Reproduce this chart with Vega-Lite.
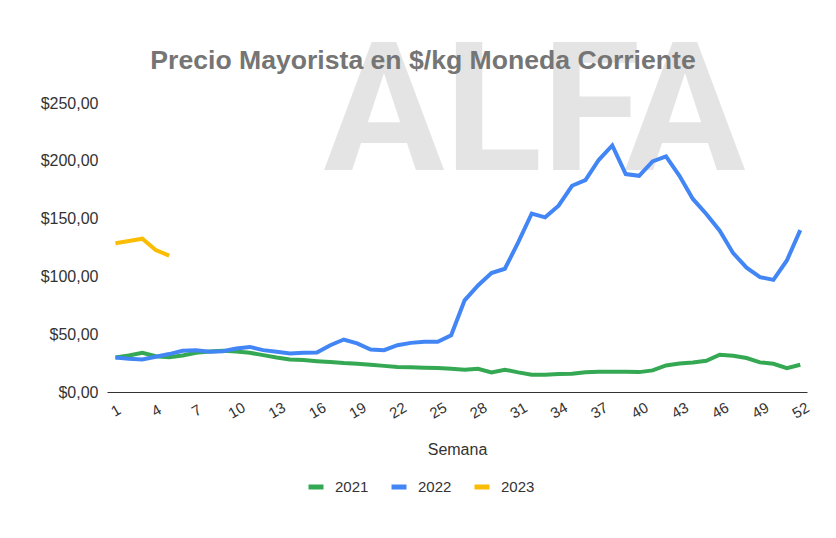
{
  "$schema": "https://vega.github.io/schema/vega-lite/v6.json",
  "width": 700,
  "height": 289,
  "autosize": {"type": "none"},
  "padding": {"left": 107, "top": 103, "right": 29, "bottom": 146},
  "background": "white",
  "title": {"text": "Precio Mayorista en $/kg Moneda Corriente", "font": "Liberation Sans", "fontSize": 26.6, "fontWeight": "bold", "color": "#757575", "anchor": "middle", "dx": -34, "offset": -49},
  "config": {"view": {"stroke": null}, "font": "Liberation Sans"},
  "layer": [
    {
      "data": {"values": [{}]},
      "mark": {"type": "text", "text": "ALFA", "font": "Roboto", "fontSize": 180, "fontWeight": "bold", "fill": "#000000", "opacity": 0.1, "baseline": "alphabetic", "align": "center"},
      "encoding": {
        "x": {"datum": 32.2, "type": "quantitative"},
        "y": {"datum": 192, "type": "quantitative"}
      }
    },
    {
      "data": {"values": [
        {"semana":1,"anio":"2021","precio":29.9},{"semana":2,"anio":"2021","precio":31.6},{"semana":3,"anio":"2021","precio":34},{"semana":4,"anio":"2021","precio":31},{"semana":5,"anio":"2021","precio":30},{"semana":6,"anio":"2021","precio":31.6},{"semana":7,"anio":"2021","precio":33.9},{"semana":8,"anio":"2021","precio":35},{"semana":9,"anio":"2021","precio":35.6},{"semana":10,"anio":"2021","precio":35},{"semana":11,"anio":"2021","precio":33.9},{"semana":12,"anio":"2021","precio":31.9},{"semana":13,"anio":"2021","precio":29.9},{"semana":14,"anio":"2021","precio":28.2},{"semana":15,"anio":"2021","precio":27.6},{"semana":16,"anio":"2021","precio":26.7},{"semana":17,"anio":"2021","precio":25.9},{"semana":18,"anio":"2021","precio":25},{"semana":19,"anio":"2021","precio":24.5},{"semana":20,"anio":"2021","precio":23.5},{"semana":21,"anio":"2021","precio":22.6},{"semana":22,"anio":"2021","precio":21.6},{"semana":23,"anio":"2021","precio":21.5},{"semana":24,"anio":"2021","precio":21},{"semana":25,"anio":"2021","precio":20.7},{"semana":26,"anio":"2021","precio":20.1},{"semana":27,"anio":"2021","precio":19.3},{"semana":28,"anio":"2021","precio":20.1},{"semana":29,"anio":"2021","precio":17},{"semana":30,"anio":"2021","precio":19.3},{"semana":31,"anio":"2021","precio":17},{"semana":32,"anio":"2021","precio":15},{"semana":33,"anio":"2021","precio":15},{"semana":34,"anio":"2021","precio":15.5},{"semana":35,"anio":"2021","precio":15.8},{"semana":36,"anio":"2021","precio":17},{"semana":37,"anio":"2021","precio":17.5},{"semana":38,"anio":"2021","precio":17.5},{"semana":39,"anio":"2021","precio":17.5},{"semana":40,"anio":"2021","precio":17.2},{"semana":41,"anio":"2021","precio":18.7},{"semana":42,"anio":"2021","precio":23},{"semana":43,"anio":"2021","precio":24.7},{"semana":44,"anio":"2021","precio":25.6},{"semana":45,"anio":"2021","precio":27},{"semana":46,"anio":"2021","precio":32.3},{"semana":47,"anio":"2021","precio":31.4},{"semana":48,"anio":"2021","precio":29.4},{"semana":49,"anio":"2021","precio":25.6},{"semana":50,"anio":"2021","precio":24.4},{"semana":51,"anio":"2021","precio":20.7},{"semana":52,"anio":"2021","precio":23.6},
        {"semana":1,"anio":"2022","precio":29.9},{"semana":2,"anio":"2022","precio":28.7},{"semana":3,"anio":"2022","precio":28.2},{"semana":4,"anio":"2022","precio":30.5},{"semana":5,"anio":"2022","precio":32.8},{"semana":6,"anio":"2022","precio":35.6},{"semana":7,"anio":"2022","precio":36.2},{"semana":8,"anio":"2022","precio":34.8},{"semana":9,"anio":"2022","precio":35.3},{"semana":10,"anio":"2022","precio":37.6},{"semana":11,"anio":"2022","precio":39},{"semana":12,"anio":"2022","precio":36.2},{"semana":13,"anio":"2022","precio":34.8},{"semana":14,"anio":"2022","precio":33.3},{"semana":15,"anio":"2022","precio":33.9},{"semana":16,"anio":"2022","precio":34.2},{"semana":17,"anio":"2022","precio":40.5},{"semana":18,"anio":"2022","precio":45.4},{"semana":19,"anio":"2022","precio":42},{"semana":20,"anio":"2022","precio":36.8},{"semana":21,"anio":"2022","precio":36.2},{"semana":22,"anio":"2022","precio":40.5},{"semana":23,"anio":"2022","precio":42.5},{"semana":24,"anio":"2022","precio":43.4},{"semana":25,"anio":"2022","precio":43.4},{"semana":26,"anio":"2022","precio":49.1},{"semana":27,"anio":"2022","precio":79.3},{"semana":28,"anio":"2022","precio":92.2},{"semana":29,"anio":"2022","precio":102.9},{"semana":30,"anio":"2022","precio":106.6},{"semana":31,"anio":"2022","precio":129.6},{"semana":32,"anio":"2022","precio":154.4},{"semana":33,"anio":"2022","precio":151.1},{"semana":34,"anio":"2022","precio":161.2},{"semana":35,"anio":"2022","precio":178.4},{"semana":36,"anio":"2022","precio":183.3},{"semana":37,"anio":"2022","precio":200.9},{"semana":38,"anio":"2022","precio":213.3},{"semana":39,"anio":"2022","precio":188.5},{"semana":40,"anio":"2022","precio":187},{"semana":41,"anio":"2022","precio":199.4},{"semana":42,"anio":"2022","precio":203.8},{"semana":43,"anio":"2022","precio":187},{"semana":44,"anio":"2022","precio":167},{"semana":45,"anio":"2022","precio":154},{"semana":46,"anio":"2022","precio":139.6},{"semana":47,"anio":"2022","precio":120.1},{"semana":48,"anio":"2022","precio":107.5},{"semana":49,"anio":"2022","precio":99.4},{"semana":50,"anio":"2022","precio":97},{"semana":51,"anio":"2022","precio":113.8},{"semana":52,"anio":"2022","precio":140},
        {"semana":1,"anio":"2023","precio":128.6},{"semana":2,"anio":"2023","precio":130.6},{"semana":3,"anio":"2023","precio":132.6},{"semana":4,"anio":"2023","precio":122.8},{"semana":5,"anio":"2023","precio":118}
      ]},
      "mark": {"type": "line", "strokeWidth": 4},
      "encoding": {
        "x": {"field": "semana", "type": "quantitative",
          "scale": {"domain": [0.37, 52.5], "nice": false, "zero": false},
          "axis": {"values": [1,4,7,10,13,16,19,22,25,28,31,34,37,40,43,46,49,52], "title": "Semana", "labelAngle": -30, "labelAlign": "center", "labelBaseline": "middle", "labelPadding": 18, "ticks": false, "tickSize": 0, "grid": false, "domainColor": "#333333", "domainWidth": 1, "labelFontSize": 15, "labelColor": "#333333", "titleFontSize": 16, "titleColor": "#333333", "titleFontWeight": "normal", "titlePadding": 20, "labelFlush": false, "labelOverlap": false}},
        "y": {"field": "precio", "type": "quantitative",
          "scale": {"domain": [0, 250], "nice": false},
          "axis": {"values": [0,50,100,150,200,250], "title": null, "labelExpr": "'$' + replace(format(datum.value, '.2f'), '.', ',')", "domain": false, "ticks": false, "tickSize": 0, "labelPadding": 9, "gridColor": "#cccccc", "labelFontSize": 16, "labelColor": "#333333"}},
        "color": {"field": "anio", "type": "nominal",
          "scale": {"domain": ["2021","2022","2023"], "range": ["#34a853","#4285f4","#fbbc04"]},
          "legend": {"title": null, "orient": "none", "legendX": 199, "legendY": 374, "direction": "horizontal", "symbolType": "stroke", "symbolStrokeWidth": 5, "symbolSize": 225, "labelFontSize": 15, "labelColor": "#333333", "labelOffset": 9, "columnPadding": 12, "padding": 0}}
      }
    }
  ]
}
